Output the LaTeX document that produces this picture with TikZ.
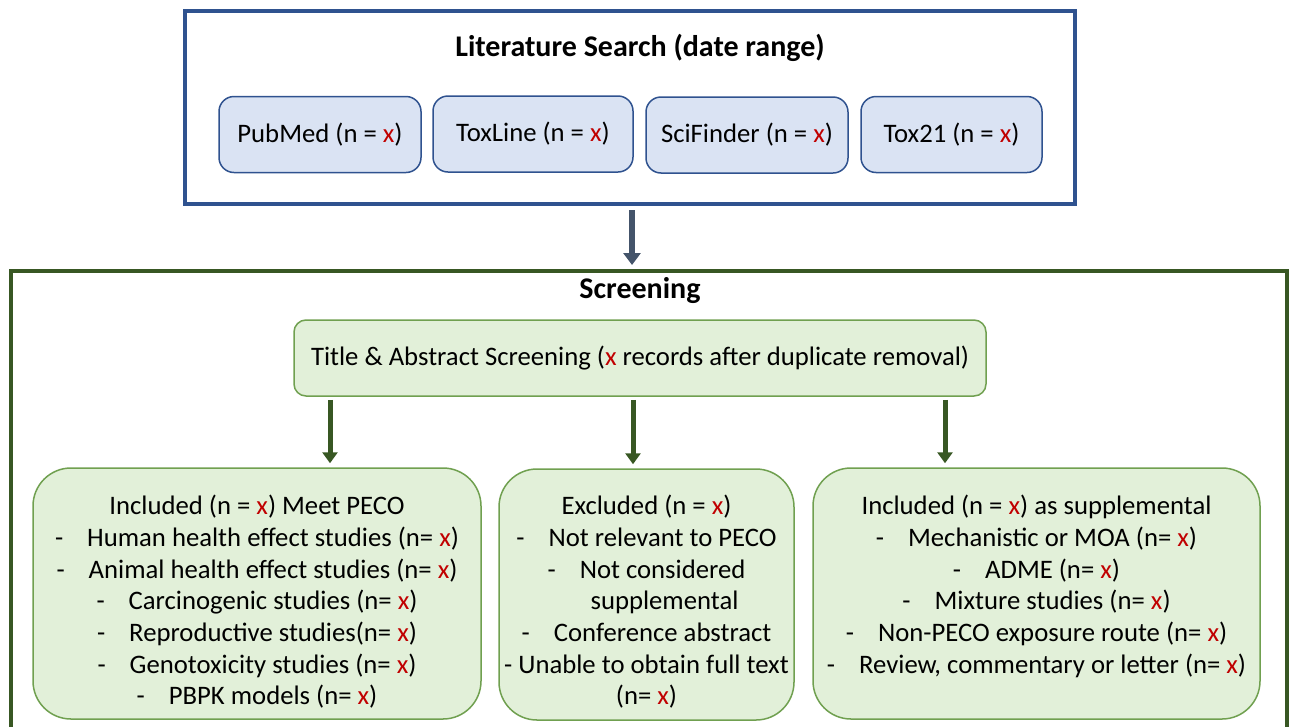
\documentclass[tikz,border=0pt]{standalone}
\usepackage{fontspec}
\setmainfont{Carlito}
\usepackage{tikz}
\usetikzlibrary{positioning, arrows.meta}

\definecolor{srchblue}{RGB}{47,82,143}
\definecolor{srchfill}{RGB}{218,227,243}
\definecolor{scrgreen}{RGB}{56,87,35}
\definecolor{boxgreen}{RGB}{112,160,80}
\definecolor{boxfill}{RGB}{226,240,217}
\definecolor{arrgray}{RGB}{68,84,106}
\definecolor{xred}{RGB}{192,0,0}

\newcommand{\rx}{\textcolor{xred}{x}}
\newcommand{\dsh}{-\hspace{24pt}}

\begin{document}
\begin{tikzpicture}[x=1pt, y=-1pt, font=\fontsize{26.7}{31.7}\selectfont]
    \tikzstyle{src}=[rectangle, rounded corners=15pt, draw=srchblue, line width=1.5pt, fill=srchfill, minimum height=76pt]
    \tikzstyle{res}=[rectangle, rounded corners=38pt, draw=boxgreen, line width=1.5pt, fill=boxfill, minimum height=251pt]
    \tikzstyle{restext}=[align=center, anchor=north, inner sep=0pt]
    \tikzstyle{head}=[font=\fontsize{30}{36}\selectfont\bfseries]
    \tikzstyle{down}=[draw=scrgreen, line width=5pt, -{Triangle[width=15pt,length=11pt]}, shorten <=3pt, shorten >=4pt]
    \useasboundingbox (0,0) rectangle (1292,726);
    % literature search
    \node [rectangle, draw=srchblue, line width=4pt, minimum width=890pt, minimum height=193pt] (search) at (630,107.5) {};
    \node [head] (searchtitle) at (640,48) {Literature Search (date range)};
    \node [src, minimum width=202pt] (pubmed) at (320,134.5) {PubMed (n = \rx)};
    \node [src, minimum width=200pt] (toxline) at (533,134) {ToxLine (n = \rx)};
    \node [src, minimum width=202pt] (scifinder) at (747,135) {SciFinder (n = \rx)};
    \node [src, minimum width=181pt] (tox21) at (951.5,134.5) {Tox21 (n = \rx)};
    % screening
    \node [rectangle, draw=scrgreen, line width=4pt, minimum width=1276pt, minimum height=470pt, anchor=north] (screen) at (649,269) {};
    \draw [draw=arrgray, line width=6pt, -{Triangle[width=17pt,length=12pt]}, shorten <=4pt, shorten >=4pt]
      ([xshift=2pt]search.south) -- ([xshift=2pt]search.south |- screen.north);
    \node [head] (screentitle) at (640,291) {Screening};
    \node [rectangle, rounded corners=12pt, draw=boxgreen, line width=1.5pt, fill=boxfill, minimum width=692pt, minimum height=76pt] (tiab) at (640,358)
      {Title \& Abstract Screening (\rx{} records after duplicate removal)};
    \node [res, minimum width=448pt] (incl) at (257,593.5) {};
    \node [res, minimum width=295pt] (excl) at (646.5,594.5) {};
    \node [res, minimum width=447pt] (supp) at (1036.5,593.5) {};
    \draw [down] ([xshift=-310pt]tiab.south) -- ([xshift=-310pt]tiab.south |- incl.north);
    \draw [down] ([xshift=-7pt]tiab.south) -- ([xshift=-7pt]tiab.south |- excl.north);
    \draw [down] ([xshift=305pt]tiab.south) -- ([xshift=305pt]tiab.south |- supp.north);
    \node [restext] (incltext) at (257,495) {Included (n = \rx) Meet PECO\\
      \dsh Human health effect studies (n= \rx)\\
      \dsh Animal health effect studies (n= \rx)\\
      \dsh Carcinogenic studies (n= \rx)\\
      \dsh Reproductive studies(n= \rx)\\
      \dsh Genotoxicity studies (n= \rx)\\
      \dsh PBPK models (n= \rx)};
    \node [restext] (excltext) at (646.5,495) {Excluded (n = \rx)\\
      \dsh Not relevant to PECO\\
      \dsh Not considered\\
      \hspace*{36pt}supplemental\\
      \dsh Conference abstract\\
      - Unable to obtain full text\\
      (n= \rx)};
    \node [restext] (supptext) at (1036.5,495) {Included (n = \rx) as supplemental\\
      \dsh Mechanistic or MOA (n= \rx)\\
      \dsh ADME (n= \rx)\\
      \dsh Mixture studies (n= \rx)\\
      \dsh Non-PECO exposure route (n= \rx)\\
      \dsh Review, commentary or letter (n= \rx)};
\end{tikzpicture}
\end{document}
